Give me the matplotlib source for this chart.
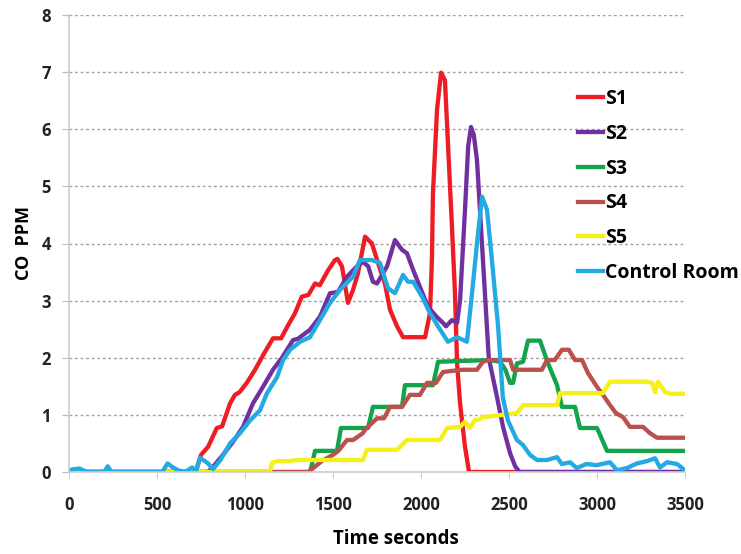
import matplotlib
matplotlib.use("Agg")
import matplotlib.pyplot as plt

plt.rcParams['font.family'] = ['Open Sans', 'DejaVu Sans']
plt.rcParams['font.weight'] = 'bold'

# S1
s1_t = [0, 720, 750, 790, 840, 870, 915, 943, 970, 1010, 1057, 1113, 1159, 1205, 1245, 1284,
        1323, 1360, 1398, 1425, 1472, 1511, 1525, 1551, 1585, 1614, 1642, 1682, 1721, 1756,
        1795, 1824, 1864, 1898, 2023, 2051, 2062, 2068, 2091, 2114, 2136, 2153, 2176, 2193,
        2205, 2222, 2250, 2273, 3500]
s1_v = [0, 0, 0.3, 0.44, 0.77, 0.8, 1.2, 1.35, 1.4, 1.56, 1.79, 2.1, 2.34, 2.34, 2.57, 2.78,
        3.07, 3.1, 3.3, 3.27, 3.53, 3.71, 3.73, 3.6, 2.96, 3.19, 3.48, 4.12, 4.0, 3.66,
        3.3, 2.84, 2.55, 2.36, 2.36, 2.78, 3.71, 4.88, 6.34, 6.99, 6.86, 5.76, 4.29, 3.13,
        1.9, 1.2, 0.44, 0.0, 0.0]

# S2
s2_t = [0, 790, 818, 875, 932, 989, 1045, 1102, 1159, 1210, 1273, 1300, 1369, 1426, 1483,
        1528, 1580, 1636, 1670, 1700, 1727, 1750, 1807, 1852, 1892, 1920, 1955, 1994, 2040,
        2091, 2125, 2142, 2176, 2205, 2222, 2250, 2268, 2284, 2300, 2318, 2352, 2385, 2432,
        2466, 2506, 2535, 2560, 3500]
s2_v = [0, 0, 0.09, 0.3, 0.53, 0.79, 1.2, 1.49, 1.79, 2.0, 2.31, 2.33, 2.49, 2.72, 3.13,
        3.15, 3.42, 3.6, 3.68, 3.6, 3.33, 3.3, 3.6, 4.06, 3.89, 3.83, 3.54, 3.24, 2.89,
        2.71, 2.61, 2.55, 2.66, 2.61, 3.01, 4.59, 5.7, 6.04, 5.9, 5.46, 3.71, 2.0, 1.31,
        0.79, 0.33, 0.1, 0, 0]

# S3
s3_t = [0, 1370, 1398, 1523, 1545, 1699, 1727, 1892, 1909, 2068, 2097, 2392, 2449, 2480,
        2506, 2523, 2545, 2580, 2608, 2676, 2722, 2773, 2801, 2875, 2903, 3000, 3057, 3500]
s3_v = [0, 0, 0.37, 0.37, 0.77, 0.77, 1.14, 1.14, 1.52, 1.52, 1.93, 1.96, 1.93, 1.79,
        1.56, 1.56, 1.9, 1.93, 2.3, 2.3, 1.9, 1.52, 1.14, 1.14, 0.77, 0.77, 0.37, 0.37]

# S4
s4_t = [0, 1360, 1400, 1440, 1500, 1530, 1580, 1614, 1670, 1682, 1750, 1790, 1824, 1892,
        1937, 1994, 2034, 2085, 2125, 2176, 2239, 2318, 2352, 2381, 2506, 2523, 2687, 2716,
        2760, 2801, 2840, 2875, 2915, 2949, 3000, 3034, 3074, 3108, 3148, 3187, 3261, 3301,
        3341, 3500]
s4_v = [0, 0, 0.1, 0.2, 0.3, 0.37, 0.56, 0.56, 0.68, 0.74, 0.94, 0.94, 1.14, 1.14,
        1.35, 1.35, 1.56, 1.56, 1.75, 1.77, 1.79, 1.79, 1.93, 1.96, 1.96, 1.79, 1.79, 1.96,
        1.96, 2.14, 2.14, 1.96, 1.96, 1.73, 1.49, 1.35, 1.17, 1.03, 0.96, 0.79, 0.79, 0.68,
        0.6, 0.6]

# S5
s5_t = [0, 1142, 1153, 1182, 1256, 1295, 1670, 1693, 1864, 1920, 2108, 2148, 2222, 2250,
        2278, 2306, 2324, 2352, 2545, 2580, 2773, 2790, 3034, 3074, 3284, 3313, 3330, 3347,
        3386, 3415, 3500]
s5_v = [0, 0, 0.16, 0.19, 0.19, 0.21, 0.21, 0.39, 0.39, 0.56, 0.56, 0.77, 0.79, 0.88,
        0.77, 0.91, 0.91, 0.96, 1.03, 1.17, 1.17, 1.38, 1.38, 1.58, 1.58, 1.56, 1.4, 1.58,
        1.4, 1.37, 1.37]

# Control Room
cr_t = [0, 30, 60, 100, 200, 220, 240, 530, 560, 590, 620, 660, 700, 720, 744, 790, 818,
        858, 915, 972, 1028, 1085, 1125, 1182, 1216, 1256, 1313, 1369, 1426, 1483, 1540,
        1614, 1653, 1721, 1767, 1812, 1852, 1898, 1926, 1955, 2006, 2051, 2097, 2136, 2153,
        2205, 2261, 2290, 2318, 2347, 2375, 2403, 2438, 2465, 2494, 2545, 2580, 2619, 2659,
        2715, 2773, 2800, 2847, 2885, 2940, 2997, 3074, 3114, 3170, 3227, 3284, 3330, 3358,
        3398, 3455, 3500]
cr_v = [0.03, 0.05, 0.06, 0, 0, 0.1, 0, 0, 0.15, 0.08, 0.03, 0, 0.08, 0, 0.25, 0.15, 0.05,
        0.2, 0.5, 0.68, 0.9, 1.08, 1.38, 1.66, 1.96, 2.14, 2.28, 2.36, 2.66, 2.96, 3.19,
        3.42, 3.71, 3.71, 3.66, 3.22, 3.13, 3.45, 3.33, 3.33, 3.07, 2.78, 2.55, 2.36, 2.28,
        2.36, 2.28, 3.13, 4.0, 4.82, 4.59, 3.71, 2.55, 1.3, 0.9, 0.56, 0.47, 0.3, 0.21,
        0.21, 0.26, 0.14, 0.17, 0.07, 0.14, 0.12, 0.17, 0.03, 0.07, 0.15, 0.19, 0.24, 0.08,
        0.17, 0.14, 0.03]

series = [
    ("S1", s1_t, s1_v, "#ee1c25"),
    ("S2", s2_t, s2_v, "#7030a0"),
    ("S3", s3_t, s3_v, "#13a34a"),
    ("S4", s4_t, s4_v, "#b9514d"),
    ("S5", s5_t, s5_v, "#f5ef1a"),
    ("Control Room", cr_t, cr_v, "#23aae2"),
]

fig = plt.figure(figsize=(7.41, 5.54), dpi=100)
ax = fig.add_axes([69 / 741, 1 - 472 / 554, 616 / 741, 457 / 554])

for name, t, v, c in series:
    ax.plot(t, v, color=c, lw=3.1, label=name, solid_joinstyle='round')

ax.set_xlim(0, 3500)
ax.set_ylim(0, 8)
ax.set_xticks(range(0, 3501, 500))
ax.set_yticks(range(0, 9))
ax.yaxis.grid(True, color='#a0a0a0', linestyle=(0, (2, 2)), lw=1)
ax.set_axisbelow(True)

for s in ['top', 'right']:
    ax.spines[s].set_visible(False)
ax.spines['left'].set_color('#cccccc')
ax.spines['left'].set_linewidth(1.2)
ax.spines['bottom'].set_color('#cccccc')
ax.spines['bottom'].set_linewidth(1.2)

ax.tick_params(axis='x', length=4, color='#cccccc', pad=13, labelsize=12, labelcolor='#222222')
ax.tick_params(axis='y', length=5, color='#bbbbbb', pad=8, labelsize=12, labelcolor='#222222')

ax.set_xlabel("Time seconds", fontsize=13.4, fontweight='bold')
ax.set_ylabel("CO  PPM", fontsize=13, fontweight='bold')
ax.xaxis.set_label_coords(0.531, -0.125)
ax.yaxis.set_label_coords(-0.058, 0.5)

fig.legend(loc='upper left', bbox_to_anchor=(578 / 741, 1 - 89 / 554), frameon=False,
           fontsize=14, handlelength=1.3, handletextpad=0.1, labelspacing=0.76,
           borderpad=0, borderaxespad=0)

fig.savefig("out.png", dpi=100)
